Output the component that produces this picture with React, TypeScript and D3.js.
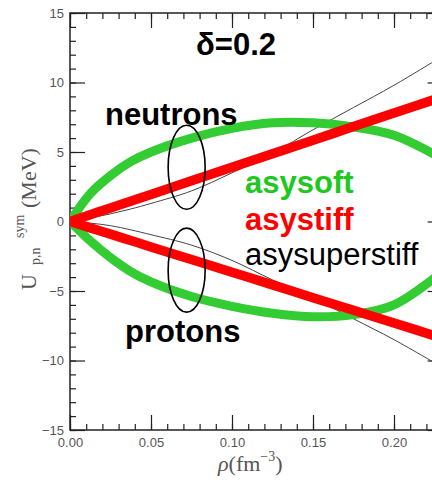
import { useRef, useEffect } from 'react';
import * as d3 from 'd3';

const WIDTH = 432;
const HEIGHT = 480;
const PLOT = { left: 70, right: 442.6, top: 13, bottom: 430 };

// density grid (fm^-3) shared by all curves
const RHO = [0, 0.0125, 0.025, 0.0375, 0.05, 0.075, 0.1, 0.125, 0.15, 0.175, 0.2, 0.23];

// asysoft
const SOFT_N = [0, 2.0, 3.3, 4.3, 5.0, 6.0, 6.7, 7.1, 7.1, 6.8, 6.2, 4.5];
const SOFT_P = [0, -1.4, -2.6, -3.6, -4.35, -5.4, -6.1, -6.6, -6.85, -6.7, -6.0, -3.6];
// asystiff
const STIFF_N = [0, 0.49, 0.98, 1.46, 1.95, 2.93, 3.9, 4.88, 5.85, 6.83, 7.8, 8.97];
const STIFF_P = [0, -0.46, -0.91, -1.37, -1.83, -2.74, -3.65, -4.56, -5.48, -6.39, -7.3, -8.4];
// asysuperstiff
const SUPER_N = [0, 0.25, 0.55, 0.9, 1.3, 2.2, 3.5, 4.9, 6.6, 8.2, 9.8, 11.9];
const SUPER_P = [0, -0.12, -0.3, -0.6, -0.95, -1.7, -2.8, -4.2, -5.5, -7.0, -8.5, -10.5];

// circled regions: [rho, U]
const MARKS = [[0.072, 3.9], [0.072, -3.5]];

const Y_MAJOR = [-15, -10, -5, 0, 5, 10, 15];
const X_MAJOR = [0, 0.05, 0.1, 0.15, 0.2];

const GREEN = '#33cc33';
const GREEN_TEXT = '#1ec81e';
const RED = '#ff0000';

export default function App() {
  const svgRef = useRef(null);

  useEffect(() => {
    const svg = d3.select(svgRef.current);
    svg.selectAll('*').remove();

    const x = d3.scaleLinear().domain([0, 0.23]).range([PLOT.left, PLOT.right]);
    const y = d3.scaleLinear().domain([-15, 15]).range([PLOT.bottom, PLOT.top]);

    svg.append('defs').append('clipPath').attr('id', 'plot-clip')
      .append('rect')
      .attr('x', PLOT.left).attr('y', PLOT.top)
      .attr('width', PLOT.right - PLOT.left).attr('height', PLOT.bottom - PLOT.top);

    const axisColor = '#222';
    const tickFont = "'Liberation Sans', Arial, sans-serif";

    const styleAxis = (g, showLabels) => {
      g.select('.domain').remove();
      g.selectAll('line').attr('stroke', axisColor).attr('stroke-width', 1.2);
      g.selectAll('text')
        .attr('fill', '#555')
        .attr('font-size', 13)
        .attr('font-family', tickFont)
        .style('display', showLabels ? null : 'none');
    };

    const yMinor = y.ticks(30);
    const xMinor = x.ticks(23);

    // left
    svg.append('g').attr('transform', `translate(${PLOT.left},0)`)
      .call(d3.axisLeft(y).tickValues(yMinor).tickSize(-6).tickFormat(() => ''))
      .call(g => styleAxis(g, false));
    svg.append('g').attr('transform', `translate(${PLOT.left},0)`)
      .call(d3.axisLeft(y).tickValues(Y_MAJOR).tickSize(-15).tickPadding(6).tickFormat(d3.format('d')))
      .call(g => styleAxis(g, true));
    // right
    svg.append('g').attr('transform', `translate(${PLOT.right},0)`)
      .call(d3.axisRight(y).tickValues(yMinor).tickSize(-6).tickFormat(() => ''))
      .call(g => styleAxis(g, false));
    svg.append('g').attr('transform', `translate(${PLOT.right},0)`)
      .call(d3.axisRight(y).tickValues(Y_MAJOR).tickSize(-15).tickFormat(() => ''))
      .call(g => styleAxis(g, false));
    // bottom
    svg.append('g').attr('transform', `translate(0,${PLOT.bottom})`)
      .call(d3.axisBottom(x).tickValues(xMinor).tickSize(-6).tickFormat(() => ''))
      .call(g => styleAxis(g, false));
    svg.append('g').attr('transform', `translate(0,${PLOT.bottom})`)
      .call(d3.axisBottom(x).tickValues(X_MAJOR).tickSize(-15).tickPadding(8).tickFormat(d3.format('.2f')))
      .call(g => styleAxis(g, true));
    // top
    svg.append('g').attr('transform', `translate(0,${PLOT.top})`)
      .call(d3.axisTop(x).tickValues(xMinor).tickSize(-6).tickFormat(() => ''))
      .call(g => styleAxis(g, false));
    svg.append('g').attr('transform', `translate(0,${PLOT.top})`)
      .call(d3.axisTop(x).tickValues(X_MAJOR).tickSize(-15).tickFormat(() => ''))
      .call(g => styleAxis(g, false));

    // frame
    svg.append('rect')
      .attr('x', PLOT.left).attr('y', PLOT.top)
      .attr('width', PLOT.right - PLOT.left).attr('height', PLOT.bottom - PLOT.top)
      .attr('fill', 'none').attr('stroke', axisColor).attr('stroke-width', 1.5);

    const line = d3.line()
      .x((d, i) => x(RHO[i]))
      .y(d => y(d))
      .curve(d3.curveCatmullRom.alpha(0.5));

    const curves = svg.append('g').attr('clip-path', 'url(#plot-clip)');
    const series = [
      { vals: SUPER_N, color: '#444', w: 1 },
      { vals: SUPER_P, color: '#444', w: 1 },
      { vals: SOFT_N, color: GREEN, w: 9 },
      { vals: SOFT_P, color: GREEN, w: 9 },
      { vals: STIFF_N, color: RED, w: 9.5 },
      { vals: STIFF_P, color: RED, w: 9.5 },
    ];
    curves.selectAll('path.curve')
      .data(series)
      .join('path')
      .attr('class', 'curve')
      .attr('d', d => line(d.vals))
      .attr('fill', 'none')
      .attr('stroke', d => d.color)
      .attr('stroke-width', d => d.w);

    // ellipses around neutron / proton branches
    svg.selectAll('ellipse.mark')
      .data(MARKS)
      .join('ellipse')
      .attr('class', 'mark')
      .attr('cx', d => x(d[0]))
      .attr('cy', d => y(d[1]))
      .attr('rx', 18.5)
      .attr('ry', 42)
      .attr('fill', 'none')
      .attr('stroke', '#000')
      .attr('stroke-width', 1.6);

    const sans = "'Liberation Sans', Arial, sans-serif";
    const label = (txt, lx, ly, color, weight) =>
      svg.append('text')
        .attr('x', lx).attr('y', ly)
        .attr('fill', color)
        .attr('font-size', 31)
        .attr('font-weight', weight)
        .attr('font-family', sans)
        .text(txt);

    label('δ=0.2', 196, 55, '#000', 'bold');
    label('neutrons', 105, 125, '#000', 'bold');
    label('protons', 125, 342, '#000', 'bold');
    label('asysoft', 245, 193, GREEN_TEXT, 'bold');
    label('asystiff', 245, 230, RED, 'bold');
    label('asysuperstiff', 245, 265, '#000', 'normal');

    // y axis title, rotated
    const serif = "'Liberation Serif', 'Times New Roman', serif";
    const yt = svg.append('g').attr('transform', 'translate(36,290) rotate(-90)')
      .attr('fill', '#555').attr('font-family', serif);
    yt.append('text').attr('x', 0).attr('y', 0).attr('font-size', 22).text('U');
    yt.append('text').attr('x', 25).attr('y', 4).attr('font-size', 14).text('p,n');
    yt.append('text').attr('x', 52).attr('y', -12).attr('font-size', 14).text('sym');
    yt.append('text').attr('x', 82).attr('y', 0).attr('font-size', 22).text('(MeV)');

    // x axis title
    const xt = svg.append('text').attr('x', 218).attr('y', 471)
      .attr('fill', '#555').attr('font-family', serif).attr('font-size', 22);
    xt.append('tspan').attr('font-style', 'italic').text('ρ');
    xt.append('tspan').text('(fm');
    xt.append('tspan').attr('font-size', 14).attr('dy', -10).text('−3');
    xt.append('tspan').attr('dy', 10).text(')');
  }, []);

  return (
    <svg
      ref={svgRef}
      width={WIDTH}
      height={HEIGHT}
      style={{ position: 'absolute', left: 0, top: 0, background: '#fff' }}
    />
  );
}
